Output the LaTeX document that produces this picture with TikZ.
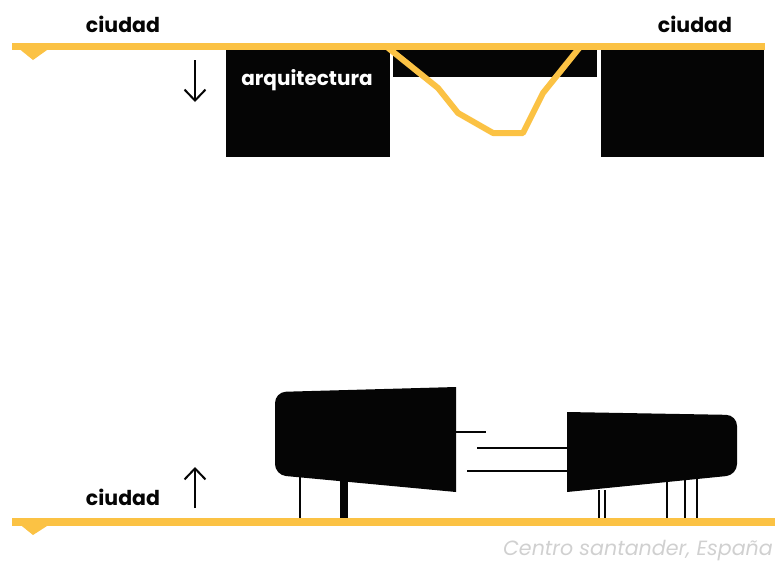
\documentclass[tikz,border=0pt]{standalone}
\usepackage{fontspec}
\setmainfont{Poppins}
\usetikzlibrary{positioning,arrows.meta}
\definecolor{amarillo}{RGB}{251,194,68}
\definecolor{negro}{RGB}{5,5,5}
\definecolor{gristexto}{RGB}{208,208,208}

\begin{document}
\begin{tikzpicture}[x=1pt,y=-1pt,>={Straight Barb[length=11pt,width=21pt]}]
\tikzstyle{lbl}=[font=\fontsize{20.5}{24}\selectfont\bfseries,inner sep=0pt,text=negro]
\tikzstyle{via}=[amarillo,line width=7.5pt]
\tikzstyle{flecha}=[->,line width=2pt,negro]
\tikzstyle{pata}=[negro,line width=2.5pt]
\useasboundingbox (0,0) rectangle (775,566);

% arriba
\fill[negro] (226,50) rectangle (390,157);
\fill[negro] (393,50) rectangle (597,77);
\fill[negro] (601,50) rectangle (764,157);
\node[font=\fontsize{20}{24}\selectfont\bfseries,text=white,inner sep=0pt] (arq) at (307,80) {arquitectura};
\draw[via] (12,46.5) -- (765,46.5);
\fill[amarillo] (12,43) -- (33,60) -- (47,50) -- (47,43) -- cycle;
\draw[amarillo,line width=6pt,line join=round] (387,47) -- (438,88) -- (458,113) -- (493,133) -- (523,133) -- (543,93) -- (580,47);
\node[lbl] (c1) at (123,24) {ciudad};
\node[lbl] (c2) at (695,24) {ciudad};
\coordinate (a1) at (195,60);
\coordinate (a2) at (195,102);
\draw[flecha] (a1) -- (a2);

% abajo
\fill[negro] (456,387) [rounded corners=11pt] -- (275,392) -- (275,475) [sharp corners] -- (456,492) -- cycle;
\fill[negro] (567,412) [rounded corners=11pt] -- (737,415) -- (737,475) [sharp corners] -- (567,492) -- cycle;
\draw[pata] (300,474) -- (300,518);
\draw[negro,line width=8pt] (344,478) -- (344,518);
\draw[pata] (599,490) -- (599,518);
\draw[pata] (605,490) -- (605,518);
\draw[pata] (667,479) -- (667,518);
\draw[pata] (685,477) -- (685,518);
\draw[pata] (697,476) -- (697,518);
\draw[pata] (456,432) -- (486,432);
\draw[pata] (477,448) -- (567,448);
\draw[pata] (467,471) -- (567,471);
\draw[via] (12,522) -- (775,522);
\fill[amarillo] (12,518) -- (33,535) -- (47,526) -- (47,518) -- cycle;
\node[lbl] (c3) at (123,497) {ciudad};
\coordinate (b1) at (195,508);
\coordinate (b2) at (195,467);
\draw[flecha] (b1) -- (b2);
\node[font=\fontsize{20.6}{25}\selectfont\itshape,text=gristexto,inner sep=0pt,anchor=east] (pie) at (773,551) {Centro santander, España};
\end{tikzpicture}
\end{document}
